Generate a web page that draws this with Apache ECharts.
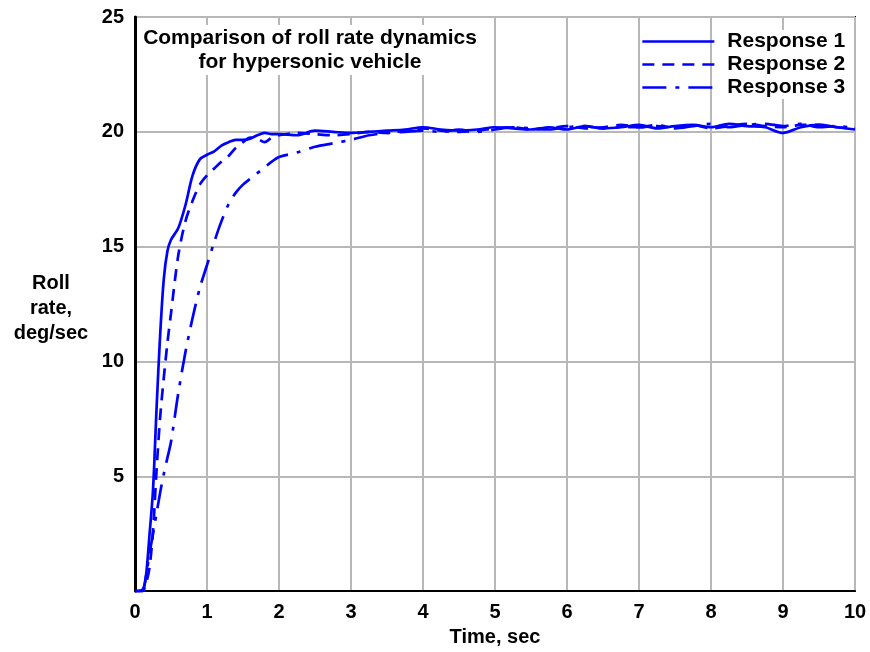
<!DOCTYPE html>
<html>
<head>
<meta charset="utf-8">
<script src="https://cdn.jsdelivr.net/npm/echarts@6/dist/echarts.min.js"></script>
<style>
  body, html { margin: 0; padding: 0; background: #fff; }
  #chart { width: 870px; height: 652px; }
</style>
</head>
<body>
<div id="chart"></div>
<script>
// time points, sec (dense during the rise, sparse afterwards)
const timePoints = [
  0, 0.1, 0.15, 0.2, 0.25, 0.3, 0.35, 0.4, 0.45, 0.5,
  0.6, 0.7, 0.8, 0.9, 1.0, 1.1, 1.2, 1.3, 1.4, 1.5, 1.6, 1.7, 1.8, 1.9,
  2.0, 2.25, 2.5, 2.75, 3.0, 3.25, 3.5, 3.75, 4.0, 4.25, 4.5, 4.75,
  5.0, 5.25, 5.5, 5.75, 6.0, 6.25, 6.5, 6.75, 7.0, 7.25, 7.5, 7.75,
  8.0, 8.25, 8.5, 8.75, 9.0, 9.25, 9.5, 9.75, 10.0
];

// roll rate, deg/sec
const response1 = [
  0, 0.05, 0.6, 2.4, 4.4, 8.0, 11.2, 13.6, 14.8, 15.3,
  15.8, 16.8, 18.1, 18.8, 19.0, 19.15, 19.4, 19.55, 19.65, 19.65, 19.7, 19.85, 19.95, 19.9,
  19.9, 19.85, 20.05, 20.0, 19.95, 20.0, 20.05, 20.1, 20.2, 20.1, 20.05, 20.1,
  20.2, 20.15, 20.1, 20.2, 20.1, 20.25, 20.15, 20.2, 20.3, 20.15, 20.25, 20.3,
  20.2, 20.35, 20.25, 20.2, 19.95, 20.2, 20.3, 20.2, 20.1
];
const response2 = [
  0, 0, 0.3, 1.0, 2.6, 5.3, 7.6, 9.3, 10.8, 12.1,
  14.6, 16.1, 17.0, 17.7, 18.1, 18.4, 18.7, 18.95, 19.3, 19.55, 19.75, 19.7, 19.55, 19.75,
  19.85, 19.95, 19.9, 19.85, 19.9, 20.0, 19.95, 20.05, 20.15, 20.05, 20.0, 20.05,
  20.15, 20.2, 20.1, 20.15, 20.25, 20.15, 20.2, 20.3, 20.2, 20.25, 20.2, 20.3,
  20.15, 20.25, 20.35, 20.25, 20.2, 20.3, 20.3, 20.2, 20.15
];
const response3 = [
  0, 0, 0.6, 1.6, 2.5, 3.4, 4.3, 5.1, 5.8, 6.5,
  8.6, 10.4, 11.9, 13.2, 14.2, 15.2, 16.1, 16.85, 17.35, 17.7, 17.95, 18.2, 18.45, 18.7,
  18.9, 19.1, 19.35, 19.5, 19.65, 19.85, 19.95, 20.0, 20.05, 20.0, 20.1, 20.0,
  20.1, 20.2, 20.15, 20.1, 20.2, 20.25, 20.15, 20.2, 20.2, 20.3, 20.15, 20.25,
  20.35, 20.2, 20.3, 20.35, 20.25, 20.35, 20.2, 20.25, 20.15
];

const seriesNames = ["Response 1", "Response 2", "Response 3"];
const yTicks = [0, 5, 10, 15, 20, 25];
const xTicks = [0, 1, 2, 3, 4, 5, 6, 7, 8, 9, 10];

const FONT = '"Liberation Sans", Arial, sans-serif';
const BLUE = "#0000ff";

function pairs(values) {
  return timePoints.map((t, i) => [t, values[i]]);
}

const lineTypes = ["solid", [12, 8], [24, 9, 4, 9]];
const allValues = [response1, response2, response3];

const chart = echarts.init(document.getElementById("chart"));
const option = {
  animation: false,
  backgroundColor: "#fff",
  grid: {
    left: 135,
    right: 15,
    top: 17,
    bottom: 56,
    show: true,
    borderColor: "#000",
    borderWidth: 2
  },
  xAxis: {
    type: "value",
    min: xTicks[0],
    max: xTicks[xTicks.length - 1],
    interval: 1,
    name: "Time, sec",
    nameLocation: "middle",
    nameGap: 31,
    nameTextStyle: { color: "#000", fontWeight: "bold", fontSize: 20, fontFamily: FONT },
    axisLine: { lineStyle: { color: "#000", width: 2 } },
    axisTick: { show: false },
    axisLabel: { color: "#000", fontWeight: "bold", fontSize: 20, fontFamily: FONT, margin: 11 },
    splitLine: { lineStyle: { color: "#b8b8b8", width: 2 } }
  },
  yAxis: {
    type: "value",
    min: yTicks[0],
    max: yTicks[yTicks.length - 1],
    interval: 5,
    axisLine: { show: true, lineStyle: { color: "#000", width: 3 } },
    axisTick: { show: false },
    axisLabel: {
      color: "#000", fontWeight: "bold", fontSize: 20, fontFamily: FONT, margin: 11,
      formatter: (v) => (v === 0 ? "" : String(v))
    },
    splitLine: { lineStyle: { color: "#b8b8b8", width: 2 } }
  },
  legend: {
    orient: "vertical",
    left: 641,
    top: 30,
    padding: 0,
    itemGap: 0,
    itemWidth: 72,
    itemHeight: 23,
    icon: "inherit",
    itemStyle: { opacity: 0 },
    lineStyle: { width: 2.7 },
    data: seriesNames,
    textStyle: {
      color: "#000",
      fontWeight: "bold",
      fontSize: 21,
      fontFamily: FONT,
      lineHeight: 23,
      backgroundColor: "#fff",
      padding: [0, 6, 0, 8]
    }
  },
  graphic: [
    {
      type: "rect",
      z: 5,
      shape: { x: 140, y: 25, width: 345, height: 50 },
      style: { fill: "#fff" }
    },
    {
      type: "text",
      z: 6,
      x: 310,
      y: 26,
      style: {
        text: "Comparison of roll rate dynamics\nfor hypersonic vehicle",
        font: "bold 21px " + FONT,
        fill: "#000",
        textAlign: "center",
        lineHeight: 24
      }
    },
    {
      type: "text",
      z: 6,
      x: 51,
      y: 271,
      style: {
        text: "Roll\nrate,\ndeg/sec",
        font: "bold 20px " + FONT,
        fill: "#000",
        textAlign: "center",
        lineHeight: 25
      }
    }
  ],
  series: seriesNames.map((name, i) => ({
    name: name,
    type: "line",
    data: pairs(allValues[i]),
    smooth: 0.3,
    symbol: "none",
    showSymbol: false,
    lineStyle: { color: BLUE, width: 2.7, type: lineTypes[i] },
    itemStyle: { color: BLUE }
  }))
};
chart.setOption(option);
</script>
</body>
</html>
